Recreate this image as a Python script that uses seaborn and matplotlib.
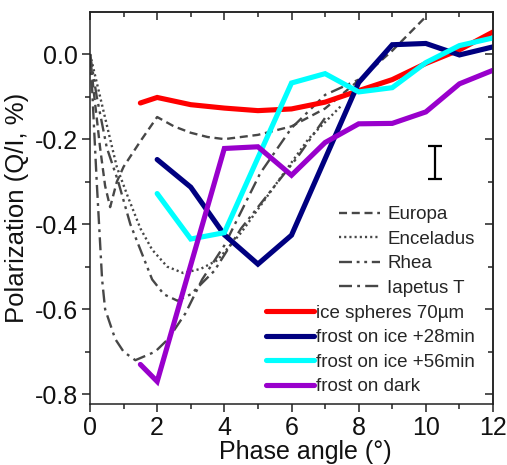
import numpy as np
import pandas as pd
import matplotlib
matplotlib.use("Agg")
import matplotlib.pyplot as plt
from matplotlib.ticker import MultipleLocator, FormatStrFormatter
from matplotlib.lines import Line2D
import seaborn as sns

# ---------------- data ----------------
europa_x = [0, 0.1, 0.3, 0.45, 0.6, 0.8, 1.0, 1.5, 2.0, 2.5, 3.0, 3.5, 4.0, 5.0, 6.0, 7.0, 8.0, 9.0, 10.0]
europa_y = [0, -0.08, -0.22, -0.31, -0.36, -0.30, -0.265, -0.205, -0.148, -0.17, -0.185, -0.195, -0.200, -0.190, -0.170, -0.128, -0.062, 0.008, 0.088]

enceladus_x = [0, 0.3, 0.6, 0.8, 1.13, 1.5, 1.85, 2.3, 2.78, 3.3, 3.79, 4.5, 5.5, 6.5, 7.5]
enceladus_y = [0, -0.10, -0.20, -0.266, -0.336, -0.41, -0.46, -0.50, -0.515, -0.505, -0.485, -0.42, -0.31, -0.20, -0.12]

rhea_x = [0, 0.2, 0.5, 0.84, 1.2, 1.5, 1.85, 2.2, 2.6, 3.0, 3.7, 4.5, 5.4, 6.2, 7.0]
rhea_y = [0, -0.10, -0.22, -0.30, -0.40, -0.46, -0.53, -0.565, -0.58, -0.565, -0.51, -0.41, -0.32, -0.24, -0.15]

iapetus_x = [0, 0.05, 0.1, 0.2, 0.36, 0.45, 0.75, 1.0, 1.35, 1.94, 2.33, 2.84, 3.34, 4.0, 5.07, 6.0, 7.0, 8.0]
iapetus_y = [0, -0.06, -0.14, -0.30, -0.53, -0.60, -0.67, -0.70, -0.72, -0.70, -0.67, -0.61, -0.53, -0.45, -0.28, -0.174, -0.096, -0.06]

ice_x = [1.5, 2, 3, 4, 5, 6, 7, 8, 9, 10, 11, 12]
ice_y = [-0.115, -0.102, -0.119, -0.127, -0.133, -0.129, -0.113, -0.086, -0.060, -0.022, 0.010, 0.052]

frost28_x = [2, 3, 4, 5, 6, 8, 9, 10, 11, 12]
frost28_y = [-0.248, -0.313, -0.425, -0.494, -0.426, -0.067, 0.022, 0.025, -0.002, 0.017]

frost56_x = [2, 3, 4, 6, 7, 8, 9, 10, 11, 12]
frost56_y = [-0.328, -0.435, -0.420, -0.068, -0.046, -0.089, -0.079, -0.020, 0.020, 0.038]

dark_x = [1.5, 2, 4, 5, 6, 7, 8, 9, 10, 11, 12]
dark_y = [-0.730, -0.770, -0.222, -0.218, -0.285, -0.208, -0.164, -0.163, -0.136, -0.070, -0.038]

err_x = [10.28]
err_y = [-0.255]
err_half = [0.039]

model_names = ["Europa", "Enceladus", "Rhea", "Iapetus T"]
data_names = ["ice spheres 70\u00b5m", "frost on ice +28min", "frost on ice +56min", "frost on dark"]

# ---------------- style ----------------
sns.set_theme(style="ticks")
plt.rcParams["font.family"] = ["Liberation Sans", "DejaVu Sans"]
plt.rcParams["axes.unicode_minus"] = False

fig = plt.figure(figsize=(5.07, 4.65), dpi=100)
ax = fig.add_axes([90 / 507, 1 - 404 / 465, (493 - 90) / 507, (404 - 12) / 465])

grey = "#474747"
model_styles = {
    "Europa": (0, (3.4, 2.0)),
    "Enceladus": (0, (0.9, 1.3)),
    "Rhea": (0, (5.5, 2.0, 1.2, 2.0, 1.2, 2.0)),
    "Iapetus T": (0, (5.5, 2.2, 1.2, 2.2)),
}
models = [(europa_x, europa_y), (enceladus_x, enceladus_y), (rhea_x, rhea_y), (iapetus_x, iapetus_y)]
mlw = 1.7
for name, (mx, my) in zip(model_names, models):
    df = pd.DataFrame({"x": mx, "y": my})
    sns.lineplot(data=df, x="x", y="y", ax=ax, color=grey, lw=mlw,
                 linestyle=model_styles[name], sort=False, estimator=None)

data_colors = ["#ff0000", "#000080", "#00ffff", "#9900cc"]
series = [(ice_x, ice_y), (frost28_x, frost28_y), (frost56_x, frost56_y), (dark_x, dark_y)]
dlw = 3.7
for name, col, (sx, sy) in zip(data_names, data_colors, series):
    df = pd.DataFrame({"x": sx, "y": sy})
    sns.lineplot(data=df, x="x", y="y", ax=ax, color=col, lw=dlw,
                 sort=False, estimator=None, solid_joinstyle="miter")

ax.errorbar(err_x, err_y, yerr=err_half, fmt="none", ecolor="black",
            elinewidth=1.6, capsize=5, capthick=1.6)

ax.set_xlim(0, 12)
ax.set_ylim(-0.823, 0.099)
ax.xaxis.set_major_locator(MultipleLocator(2))
ax.xaxis.set_minor_locator(MultipleLocator(1))
ax.yaxis.set_major_locator(MultipleLocator(0.2))
ax.yaxis.set_minor_locator(MultipleLocator(0.1))
ax.xaxis.set_major_formatter(FormatStrFormatter("%d"))
ax.yaxis.set_major_formatter(FormatStrFormatter("%.1f"))

for s in ax.spines.values():
    s.set_linewidth(1.1)
    s.set_color("#222222")
    s.set_visible(True)

ax.tick_params(which="both", direction="out", width=1.1, color="#222222",
               labelsize=18, labelcolor="#111111", top=False, right=False, pad=3)
ax.tick_params(which="major", length=5.5)
ax.tick_params(which="minor", length=3.5)

secx = ax.secondary_xaxis("top")
secx.xaxis.set_major_locator(MultipleLocator(2))
secx.xaxis.set_minor_locator(MultipleLocator(1))
secx.tick_params(which="both", direction="in", labeltop=False, width=1.1, color="#222222")
secx.tick_params(which="major", length=5.5)
secx.tick_params(which="minor", length=3.5)
secx.spines["top"].set_linewidth(1.1)
secy = ax.secondary_yaxis("right")
secy.yaxis.set_major_locator(MultipleLocator(0.2))
secy.yaxis.set_minor_locator(MultipleLocator(0.1))
secy.tick_params(which="both", direction="in", labelright=False, width=1.1, color="#222222")
secy.tick_params(which="major", length=5.5)
secy.tick_params(which="minor", length=3.5)
secy.spines["right"].set_linewidth(1.1)

ax.set_xlabel("Phase angle (\u00b0)", fontsize=18, color="#111111", labelpad=0)
ax.xaxis.label.set_x(0.535)
ax.set_ylabel("Polarization (Q/I, %)", fontsize=18.5, color="#111111", labelpad=4)

# legends
h1 = [Line2D([], [], color=grey, lw=mlw, linestyle=model_styles[n]) for n in model_names]
leg1 = ax.legend(h1, model_names, loc="upper right", bbox_to_anchor=(0.955, 0.505),
                 frameon=False, fontsize=13.5, handlelength=2.2, handletextpad=0.4,
                 labelspacing=0.4, borderaxespad=0, borderpad=0)
ax.add_artist(leg1)
h2 = [Line2D([], [], color=c, lw=dlw) for c in data_colors]
ax.legend(h2, data_names, loc="lower right", bbox_to_anchor=(0.955, 0.022),
          frameon=False, fontsize=13.5, handlelength=2.55, handletextpad=0.12,
          labelspacing=0.4, borderaxespad=0, borderpad=0)

fig.savefig("out.png", dpi=100)
